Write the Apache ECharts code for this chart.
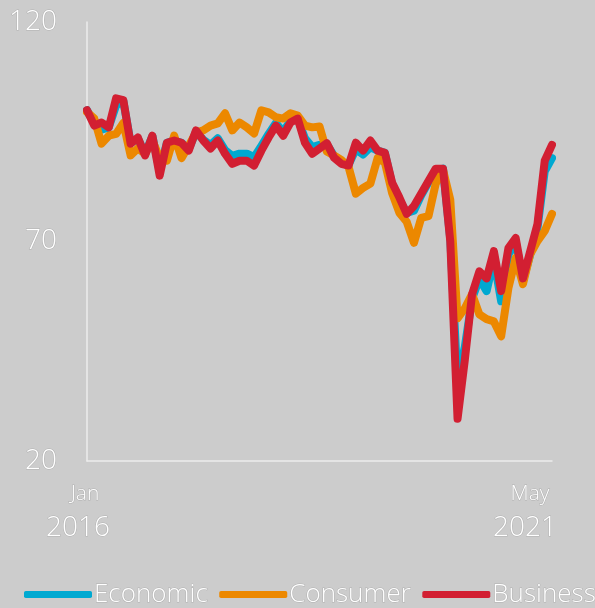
<!DOCTYPE html>
<html>
<head>
<meta charset="utf-8">
<script src="https://cdn.jsdelivr.net/npm/echarts@6/dist/echarts.min.js"></script>
<style>
  html, body { margin: 0; padding: 0; background: #cccccc; }
  #main { width: 595px; height: 608px; }
</style>
</head>
<body>
<div id="main"></div>
<script>
// monthly, Jan 2016 .. May 2021
var monthNames = ['Jan','Feb','Mar','Apr','May','Jun','Jul','Aug','Sep','Oct','Nov','Dec'];
var months = [];
for (var yr = 2016; yr <= 2021; yr++) {
    for (var m = 0; m < 12; m++) {
        if (yr === 2021 && m > 4) break;
        months.push(monthNames[m] + ' ' + yr);
    }
}

var economic = [
    99.9, 96.8, 95.5, 96.0, 101.0, 102.0, 92.5, 93.5, 90.0, 94.0, 86.0, 92.5,
    93.0, 92.5, 91.0, 95.0, 93.2, 92.0, 93.5, 90.8, 89.5, 90.0, 90.0, 89.2,
    91.8, 94.5, 97.0, 95.0, 97.5, 98.0, 93.5, 91.5, 92.0, 92.2, 89.5, 88.0,
    87.5, 91.0, 89.8, 91.5, 90.7, 90.2, 83.0, 79.5, 76.5, 77.0, 80.5, 83.5,
    85.8, 86.6, 70.5, 38.0, 46.0, 57.0, 61.5, 58.7, 66.0, 56.4, 67.0, 70.0,
    61.0, 67.0, 73.0, 86.0, 89.0
];
var consumer = [
    99.5, 98.0, 92.3, 94.1, 94.5, 97.0, 89.6, 91.2, 90.0, 93.0, 89.0, 88.4,
    94.1, 89.0, 91.8, 94.8, 95.3, 96.4, 96.9, 99.2, 95.3, 97.1, 96.0, 94.6,
    99.9, 99.4, 98.3, 98.0, 99.2, 98.7, 96.4, 96.0, 96.2, 90.5, 89.6, 88.6,
    87.0, 80.9, 82.2, 83.2, 89.0, 88.0, 81.0, 76.5, 74.5, 69.7, 75.4, 75.8,
    83.2, 86.3, 79.5, 52.5, 54.8, 58.0, 53.4, 52.3, 51.8, 48.4, 59.4, 66.2,
    60.3, 67.1, 70.1, 72.4, 76.3
];
var business = [
    99.9, 96.4, 97.1, 96.0, 102.6, 102.2, 92.3, 93.7, 89.6, 94.1, 85.0, 92.5,
    93.0, 92.5, 90.7, 95.3, 93.0, 91.2, 93.0, 90.0, 87.7, 88.4, 88.4, 87.3,
    90.7, 93.7, 96.4, 94.1, 97.1, 98.0, 92.5, 90.0, 91.2, 92.4, 89.1, 87.7,
    87.3, 92.5, 90.7, 93.0, 90.7, 90.2, 83.4, 80.0, 76.3, 78.1, 80.9, 83.8,
    86.6, 86.6, 70.0, 29.6, 43.0, 58.0, 63.2, 61.6, 67.8, 58.7, 68.5, 70.8,
    61.6, 67.8, 74.0, 88.4, 92.0
];
var seriesNames = ['Economic', 'Consumer', 'Business'];
var seriesColors = ['#00a9d1', '#ec8800', '#d21f32'];
var yTicks = [20, 70, 120];

var myChart = echarts.init(document.getElementById('main'));

var txt = {
    color: '#ffffff',
    fontFamily: 'Open Sans',
    fontWeight: 300,
    textBorderColor: '#b0b0b0',
    textBorderWidth: 1
};

function mkSeries(name, data, i) {
    return {
        name: name,
        type: 'line',
        data: data,
        symbol: 'none',
        animation: false,
        color: seriesColors[i],
        lineStyle: { width: 8, color: seriesColors[i], join: 'round', cap: 'round' }
    };
}

var option = {
    backgroundColor: '#cccccc',
    animation: false,
    grid: { left: 87, right: 43, top: 22, bottom: 147, outerBoundsMode: 'none', containLabel: false },
    legend: {
        data: seriesNames,
        left: 19,
        top: 576,
        width: 620,
        icon: 'roundRect',
        itemWidth: 68,
        itemHeight: 7,
        itemGap: 11,
        textStyle: Object.assign({ fontSize: 26, padding: [0, 0, 0, -3] }, txt)
    },
    xAxis: {
        type: 'category',
        data: months,
        boundaryGap: false,
        axisLine: { lineStyle: { color: '#ececec', width: 1.5 } },
        axisTick: { show: false },
        axisLabel: {
            interval: function (idx) { return idx === 0 || idx === months.length - 1; },
            margin: 16,
            formatter: function (value, idx) {
                var p = value.split(' ');
                var k = idx === 0 ? 'a' : 'b';
                return '{' + k + 'm|' + p[0] + '}\n{' + k + 'y|' + p[1] + '}';
            },
            rich: {
                am: Object.assign({ fontSize: 21, lineHeight: 34, padding: [0, 4, 0, 0] }, txt),
                ay: Object.assign({ fontSize: 28, lineHeight: 34, padding: [0, 18, 0, 0] }, txt),
                bm: Object.assign({ fontSize: 21, lineHeight: 34, padding: [0, 44, 0, 0] }, txt),
                by: Object.assign({ fontSize: 28, lineHeight: 34, padding: [0, 54, 0, 0] }, txt)
            }
        },
        splitLine: { show: false }
    },
    yAxis: {
        type: 'value',
        min: yTicks[0],
        max: yTicks[yTicks.length - 1],
        interval: yTicks[1] - yTicks[0],
        axisLine: { show: true, lineStyle: { color: '#ececec', width: 1.5 } },
        axisTick: { show: false },
        splitLine: { show: false },
        axisLabel: Object.assign({ fontSize: 28, margin: 30 }, txt)
    },
    series: [
        mkSeries(seriesNames[0], economic, 0),
        mkSeries(seriesNames[1], consumer, 1),
        mkSeries(seriesNames[2], business, 2)
    ]
};

myChart.setOption(option);
</script>
</body>
</html>
